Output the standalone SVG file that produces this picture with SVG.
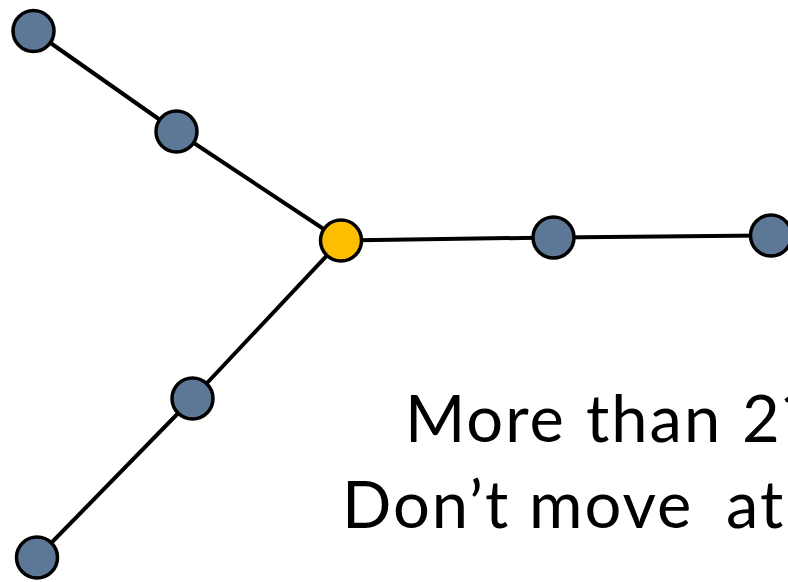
<svg xmlns="http://www.w3.org/2000/svg" width="788" height="582" viewBox="0 0 788 582">
<style>
.edge{stroke:#000;stroke-width:4;fill:none}
.n{fill:#5d7796;stroke:#000;stroke-width:3.5}
.hub{fill:#fdbd00;stroke:#000;stroke-width:3.5}
.t{font-family:Lato,"Open Sans",sans-serif;font-size:65px;fill:#000;letter-spacing:2px}
</style>
<rect width="788" height="582" fill="#fff"/>
<g id="connectors">
<line class="edge" x1="33.5" y1="31" x2="176.5" y2="131.5"/>
<line class="edge" x1="176.5" y1="131.5" x2="341" y2="240.5"/>
<line class="edge" x1="341" y1="240.5" x2="553.5" y2="237.5"/>
<line class="edge" x1="553.5" y1="237.5" x2="771" y2="235.5"/>
<line class="edge" x1="341" y1="240.5" x2="192.5" y2="398.5"/>
<line class="edge" x1="192.5" y1="398.5" x2="37" y2="557.5"/>
</g>
<g id="n1"><circle class="n" cx="33.5" cy="31" r="20.5"/></g>
<g id="n2"><circle class="n" cx="176.5" cy="131.5" r="20.5"/></g>
<g id="hub"><circle class="hub" cx="341" cy="240.5" r="20.5"/></g>
<g id="n4"><circle class="n" cx="553.5" cy="237.5" r="20.5"/></g>
<g id="n5"><circle class="n" cx="771" cy="235.5" r="20.5"/></g>
<g id="n6"><circle class="n" cx="192.5" cy="398.5" r="20.5"/></g>
<g id="n7"><circle class="n" cx="37" cy="557.5" r="20.5"/></g>
<g id="label">
<text class="t" y="442"><tspan x="405">More</tspan> <tspan x="586">than</tspan> <tspan x="742">2?</tspan></text>
<text class="t" y="528"><tspan x="342">Don’t</tspan> <tspan x="529">move</tspan> <tspan x="726">at</tspan> <tspan x="805">all</tspan></text>
</g>
</svg>
